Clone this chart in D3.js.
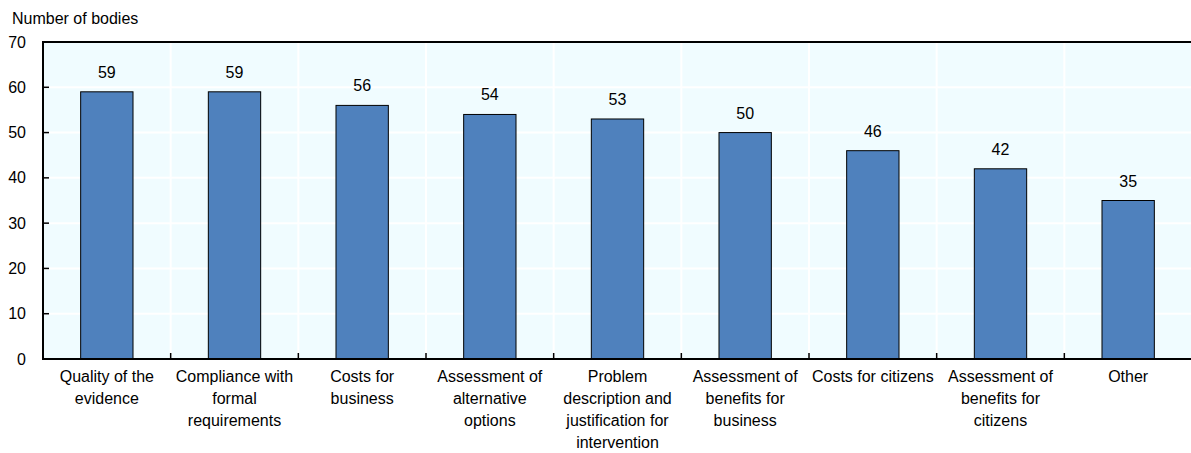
<!DOCTYPE html>
<html><head><meta charset="utf-8">
<script src="https://cdn.jsdelivr.net/npm/d3@7"></script>
<style>body{margin:0;background:#fff}text{font-family:"Liberation Sans",Arial,sans-serif;fill:#000}</style>
</head><body><svg id="c" width="1191" height="453"></svg>
<script>
const categories = [
  ["Quality of the","evidence"],
  ["Compliance with","formal","requirements"],
  ["Costs for","business"],
  ["Assessment of","alternative","options"],
  ["Problem","description and","justification for","intervention"],
  ["Assessment of","benefits for","business"],
  ["Costs for citizens"],
  ["Assessment of","benefits for","citizens"],
  ["Other"]
];
const values = [59,59,56,54,53,50,46,42,35];
const yTicks = [0,10,20,30,40,50,60,70];
const yTitle = "Number of bodies";

const svg = d3.select("#c");
const L = 43, R = 1192, T = 42, B = 359;
const x = d3.scaleBand().domain(d3.range(categories.length)).range([L, R]).paddingInner(0).paddingOuter(0);
const y = d3.scaleLinear().domain([0,70]).range([B, T]);

svg.append("rect").attr("x",L).attr("y",T).attr("width",R-L).attr("height",B-T).attr("fill","#f0fcff");
// horizontal grid
svg.selectAll(".hg").data(yTicks.slice(1,-1)).join("line")
  .attr("x1",L).attr("x2",R).attr("y1",d=>y(d)).attr("y2",d=>y(d))
  .attr("stroke","#fff").attr("stroke-width",2);
// vertical grid at boundaries
const bounds = d3.range(1, categories.length).map(i => x(i));
svg.selectAll(".vg").data(bounds).join("line")
  .attr("x1",d=>d).attr("x2",d=>d).attr("y1",T).attr("y2",B)
  .attr("stroke","#fff").attr("stroke-width",2);
// bars
const bw = x.bandwidth()*0.41;
svg.selectAll(".bar").data(values).join("rect")
  .attr("x",(d,i)=>x(i)+x.bandwidth()/2-bw/2).attr("width",bw)
  .attr("y",d=>y(d)).attr("height",d=>B-y(d))
  .attr("fill","#4f81bd").attr("stroke","#000").attr("stroke-width",1);
// value labels
svg.selectAll(".vl").data(values).join("text")
  .attr("x",(d,i)=>x(i)+x.bandwidth()/2).attr("y",d=>y(d)-14)
  .attr("text-anchor","middle").attr("font-size",16).text(d=>d);
// axes lines
svg.append("line").attr("x1",L).attr("x2",R).attr("y1",T).attr("y2",T).attr("stroke","#000").attr("stroke-width",2);
svg.append("line").attr("x1",L).attr("x2",L).attr("y1",T-1).attr("y2",B+1).attr("stroke","#000").attr("stroke-width",2);
svg.append("line").attr("x1",L).attr("x2",R).attr("y1",B).attr("y2",B).attr("stroke","#000").attr("stroke-width",2);
// y ticks
svg.selectAll(".yt").data(yTicks.slice(1,-1)).join("line")
  .attr("x1",L).attr("x2",L+6).attr("y1",d=>y(d)).attr("y2",d=>y(d)).attr("stroke","#000").attr("stroke-width",1.5);
svg.selectAll(".yl").data(yTicks).join("text")
  .attr("x",26).attr("y",d=>y(d)+5.5).attr("text-anchor","end").attr("font-size",16).text(d=>d);
// x ticks
svg.selectAll(".xt").data(bounds).join("line")
  .attr("x1",d=>d).attr("x2",d=>d).attr("y1",B).attr("y2",B-6).attr("stroke","#000").attr("stroke-width",1.5);
// x labels
categories.forEach((lines,i)=>{
  const t = svg.append("text").attr("text-anchor","middle").attr("font-size",16);
  lines.forEach((ln,j)=>{
    t.append("tspan").attr("x",x(i)+x.bandwidth()/2).attr("y",382+j*22).text(ln);
  });
});
svg.append("text").attr("x",12).attr("y",24).attr("font-size",16).text(yTitle);
</script></body></html>
